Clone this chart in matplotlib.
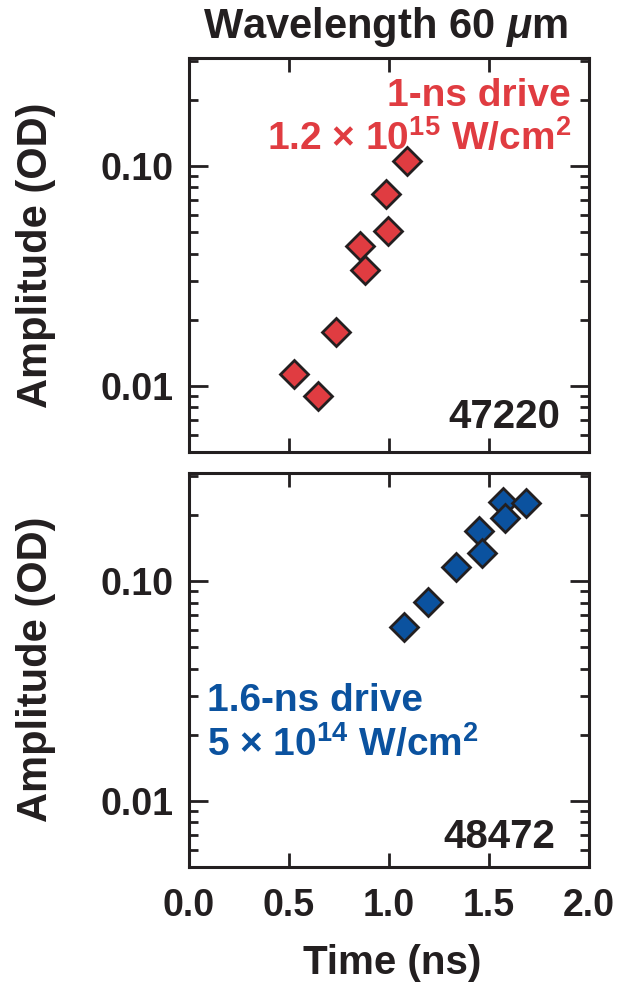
import numpy as np
import matplotlib
matplotlib.use("Agg")
import matplotlib.pyplot as plt
from matplotlib.ticker import LogLocator, NullFormatter

# Fonts
plt.rcParams['font.family'] = ['Liberation Sans', 'DejaVu Sans']
plt.rcParams['font.weight'] = 'bold'
plt.rcParams['mathtext.fontset'] = 'custom'
plt.rcParams['mathtext.rm'] = 'Liberation Sans:bold'
plt.rcParams['mathtext.bf'] = 'Liberation Sans:bold'
plt.rcParams['mathtext.it'] = 'Liberation Sans:italic:bold'

# Data - 1-ns drive (shot 47220)
time_1ns = [0.523, 0.643, 0.737, 0.855, 0.882, 0.983, 0.997, 1.088]
amp_1ns = [0.0113, 0.0090, 0.0175, 0.0432, 0.0335, 0.0749, 0.0505, 0.105]

# Data - 1.6-ns drive (shot 48472)
time_16ns = [1.077, 1.195, 1.337, 1.450, 1.463, 1.568, 1.582, 1.683]
amp_16ns = [0.0617, 0.0806, 0.116, 0.170, 0.134, 0.230, 0.195, 0.226]

ytick_vals = [0.01, 0.1]
ytick_labels = ['0.01', '0.10']
xtick_vals = [0.0, 0.5, 1.0, 1.5, 2.0]
xtick_labels = ['0.0', '0.5', '1.0', '1.5', '2.0']

red = '#E03C41'
blue = '#0B529F'
dark = '#231F20'

fig = plt.figure(figsize=(6.2, 9.82), dpi=100)
ax1 = fig.add_axes([0.3048, 0.5397, 0.6452, 0.4012])
ax2 = fig.add_axes([0.3048, 0.1168, 0.6452, 0.4012])

for ax in (ax1, ax2):
    ax.set_yscale('log')
    ax.set_xlim(0, 2.0)
    ax.set_ylim(0.005, 0.31)
    ax.set_yticks(ytick_vals)
    ax.set_yticklabels(ytick_labels)
    ax.yaxis.set_minor_locator(LogLocator(base=10, subs=np.arange(2, 10)))
    ax.yaxis.set_minor_formatter(NullFormatter())
    ax.set_xticks(xtick_vals)
    ax.tick_params(axis='both', which='both', direction='in', top=True, right=True,
                   colors=dark, width=2.0, labelsize=27)
    ax.tick_params(axis='y', which='major', length=13.5, pad=11)
    ax.tick_params(axis='y', which='minor', length=6.5)
    ax.tick_params(axis='x', which='major', length=10, pad=15)
    for s in ax.spines.values():
        s.set_linewidth(2.2)
        s.set_color(dark)

ax1.set_xticklabels([])
ax2.set_xticklabels(xtick_labels)

# Markers
ax1.plot(time_1ns, amp_1ns, linestyle='none', marker='D', markersize=14,
         markerfacecolor=red, markeredgecolor=dark, markeredgewidth=2.0)
ax2.plot(time_16ns, amp_16ns, linestyle='none', marker='D', markersize=14,
         markerfacecolor=blue, markeredgecolor=dark, markeredgewidth=2.0)

# Annotations
ax1.text(0.955, 0.878, '1-ns drive', transform=ax1.transAxes, ha='right',
         va='baseline', fontsize=28, color=red, fontweight='bold')
ax1.text(0.955, 0.768, r'1.2 × 10$^{15}$ W/cm$^{2}$', transform=ax1.transAxes,
         ha='right', va='baseline', fontsize=28, color=red, fontweight='bold')
ax1.text(0.9275, 0.060, '47220', transform=ax1.transAxes, ha='right',
         va='baseline', fontsize=29, color=dark, fontweight='bold')

ax2.text(0.045, 0.397, '1.6-ns drive', transform=ax2.transAxes, ha='left',
         va='baseline', fontsize=28, color=blue, fontweight='bold')
ax2.text(0.045, 0.2825, r'5 × 10$^{14}$ W/cm$^{2}$', transform=ax2.transAxes,
         ha='left', va='baseline', fontsize=28, color=blue, fontweight='bold')
ax2.text(0.915, 0.048, '48472', transform=ax2.transAxes, ha='right',
         va='baseline', fontsize=29, color=dark, fontweight='bold')

# Titles and axis labels
fig.text(0.622, 0.961, r'Wavelength 60 $\mu$m', ha='center', va='baseline',
         fontsize=30, color=dark, fontweight='bold')
fig.text(0.058, 0.740, 'Amplitude (OD)', rotation=90, ha='center', va='center',
         fontsize=30, color=dark, fontweight='bold')
fig.text(0.058, 0.318, 'Amplitude (OD)', rotation=90, ha='center', va='center',
         fontsize=30, color=dark, fontweight='bold')
fig.text(0.632, 0.008, 'Time (ns)', ha='center', va='baseline',
         fontsize=29, color=dark, fontweight='bold')

plt.savefig('out.png', dpi=100)
